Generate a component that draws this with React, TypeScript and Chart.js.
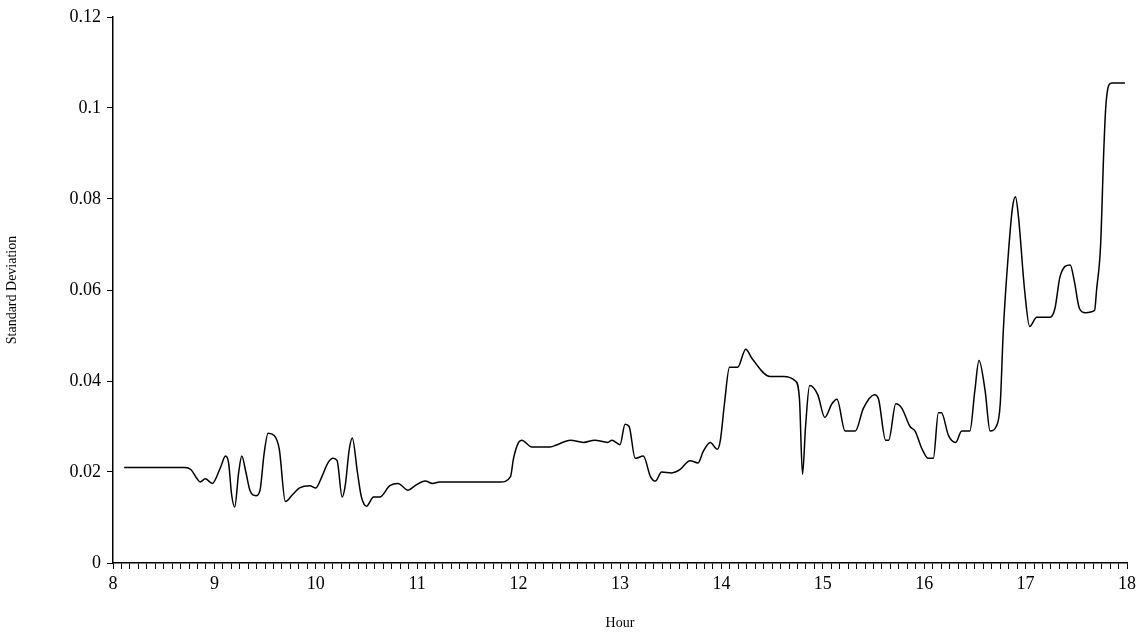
import React, { useEffect, useRef } from 'react';
import Chart from 'chart.js/auto';

// hours and standard deviation, row by row aligned
const hours = [
  8.11, 8.71, 8.77, 8.83, 8.86, 8.91, 8.98, 9.06,
  9.11, 9.14, 9.17, 9.20, 9.24, 9.27, 9.31, 9.35,
  9.41, 9.45, 9.49, 9.53, 9.59, 9.64, 9.70, 9.77,
  9.84, 9.94, 10.00, 10.06, 10.12, 10.17, 10.21, 10.26,
  10.29, 10.33, 10.36, 10.41, 10.45, 10.50, 10.57, 10.63,
  10.73, 10.81, 10.91, 10.98, 11.08, 11.15, 11.22, 11.82,
  11.92, 11.95, 12.00, 12.03, 12.13, 12.31, 12.38, 12.51,
  12.64, 12.75, 12.88, 12.92, 13.00, 13.05, 13.09, 13.15,
  13.23, 13.30, 13.35, 13.41, 13.51, 13.59, 13.69, 13.77,
  13.82, 13.89, 13.96, 13.99, 14.03, 14.08, 14.16, 14.24,
  14.30, 14.48, 14.61, 14.73, 14.77, 14.80, 14.83, 14.87,
  14.95, 15.02, 15.09, 15.14, 15.22, 15.32, 15.40, 15.51,
  15.55, 15.62, 15.65, 15.72, 15.78, 15.86, 15.91, 15.98,
  16.04, 16.09, 16.14, 16.17, 16.24, 16.31, 16.37, 16.45,
  16.50, 16.54, 16.60, 16.65, 16.71, 16.75, 16.78, 16.83,
  16.87, 16.90, 16.93, 16.99, 17.04, 17.11, 17.24, 17.29,
  17.34, 17.44, 17.48, 17.53, 17.59, 17.68, 17.70, 17.74,
  17.77, 17.79, 17.82, 17.85, 17.98,
];

const stdDev = [
  0.021, 0.021, 0.0205, 0.0185, 0.0178, 0.0185, 0.0175, 0.021,
  0.0235, 0.022, 0.015, 0.0123, 0.02, 0.0235, 0.02, 0.016,
  0.0148, 0.016, 0.024, 0.0285, 0.028, 0.025, 0.0135, 0.015,
  0.0165, 0.017, 0.0165, 0.019, 0.022, 0.023, 0.0225, 0.0145,
  0.017, 0.025, 0.0275, 0.02, 0.0145, 0.0125, 0.0145, 0.0145,
  0.017, 0.0175, 0.016, 0.017, 0.018, 0.0175, 0.0178, 0.0178,
  0.019, 0.023, 0.0265, 0.027, 0.0255, 0.0255, 0.026, 0.027,
  0.0265, 0.027, 0.0265, 0.027, 0.026, 0.0305, 0.03, 0.023,
  0.0235, 0.019, 0.018, 0.02, 0.0198, 0.0205, 0.0225, 0.022,
  0.0245, 0.0265, 0.025, 0.027, 0.035, 0.043, 0.043, 0.047,
  0.045, 0.041, 0.041, 0.04, 0.036, 0.0195, 0.03, 0.039,
  0.037, 0.032, 0.035, 0.036, 0.029, 0.029, 0.034, 0.037,
  0.036, 0.027, 0.027, 0.035, 0.034, 0.03, 0.029, 0.025,
  0.023, 0.023, 0.033, 0.033, 0.028, 0.0265, 0.029, 0.029,
  0.038, 0.0445, 0.038, 0.029, 0.03, 0.035, 0.051, 0.068,
  0.078, 0.0805, 0.076, 0.06, 0.052, 0.054, 0.054, 0.056,
  0.063, 0.0655, 0.062, 0.056, 0.055, 0.0555, 0.06, 0.07,
  0.09, 0.1, 0.105, 0.1055, 0.1055,
];

const yTicks = [0, 0.02, 0.04, 0.06, 0.08, 0.1, 0.12];

const serif = 'Liberation Serif, Times New Roman, serif';

const App = () => {
  const canvasRef = useRef<HTMLCanvasElement>(null);

  useEffect(() => {
    document.body.style.margin = '0';
    let chart: Chart | null = null;
    const ctx = canvasRef.current?.getContext('2d');
    if (ctx) {
      chart = new Chart(ctx, {
        type: 'line',
        data: {
          datasets: [{
            data: hours.map((h, i) => ({ x: h, y: stdDev[i] })),
            borderColor: '#000',
            borderWidth: 1.5,
            pointRadius: 0,
            cubicInterpolationMode: 'monotone',
          }],
        },
        options: {
          animation: false,
          responsive: false,
          layout: { padding: { top: 17, right: 20, left: 0, bottom: 0 } },
          plugins: { legend: { display: false }, tooltip: { enabled: false } },
          scales: {
            x: {
              type: 'linear',
              min: 8,
              max: 18,
              afterFit: (s: any) => { s.height = 73; },
              grid: { drawOnChartArea: false, tickLength: 6, color: '#000' },
              border: { color: '#000', width: 1.5 },
              afterBuildTicks: (s: any) => {
                const t = [];
                for (let i = 0; i <= 120; i++) t.push({ value: 8 + i / 12 });
                s.ticks = t;
              },
              ticks: {
                autoSkip: false,
                maxRotation: 0,
                color: '#000',
                font: { family: serif, size: 18 },
                padding: 4,
                callback: (v: any) => {
                  const r = Math.round(v);
                  return Math.abs(v - r) < 1e-6 ? String(r) : '';
                },
              },
              title: { display: true, text: 'Hour', color: '#000', font: { family: serif, size: 14 }, padding: { top: 6 } },
            },
            y: {
              min: 0,
              max: 0.12,
              afterFit: (s: any) => { s.width = 113; },
              afterBuildTicks: (s: any) => { s.ticks = yTicks.map(v => ({ value: v })); },
              grid: { drawOnChartArea: false, tickLength: 6, color: '#000' },
              border: { color: '#000', width: 1.5 },
              ticks: {
                color: '#000',
                font: { family: serif, size: 18 },
                padding: 6,
                callback: (v: any) => String(Math.round(v * 100) / 100),
              },
              title: { display: true, text: 'Standard Deviation', color: '#000', font: { family: serif, size: 14 }, padding: { bottom: 0 } },
            },
          },
        },
      });
    }
    return () => { chart?.destroy(); };
  }, []);

  return <canvas ref={canvasRef} width={1147} height={636} style={{ display: 'block' }} />;
};

export default App;
